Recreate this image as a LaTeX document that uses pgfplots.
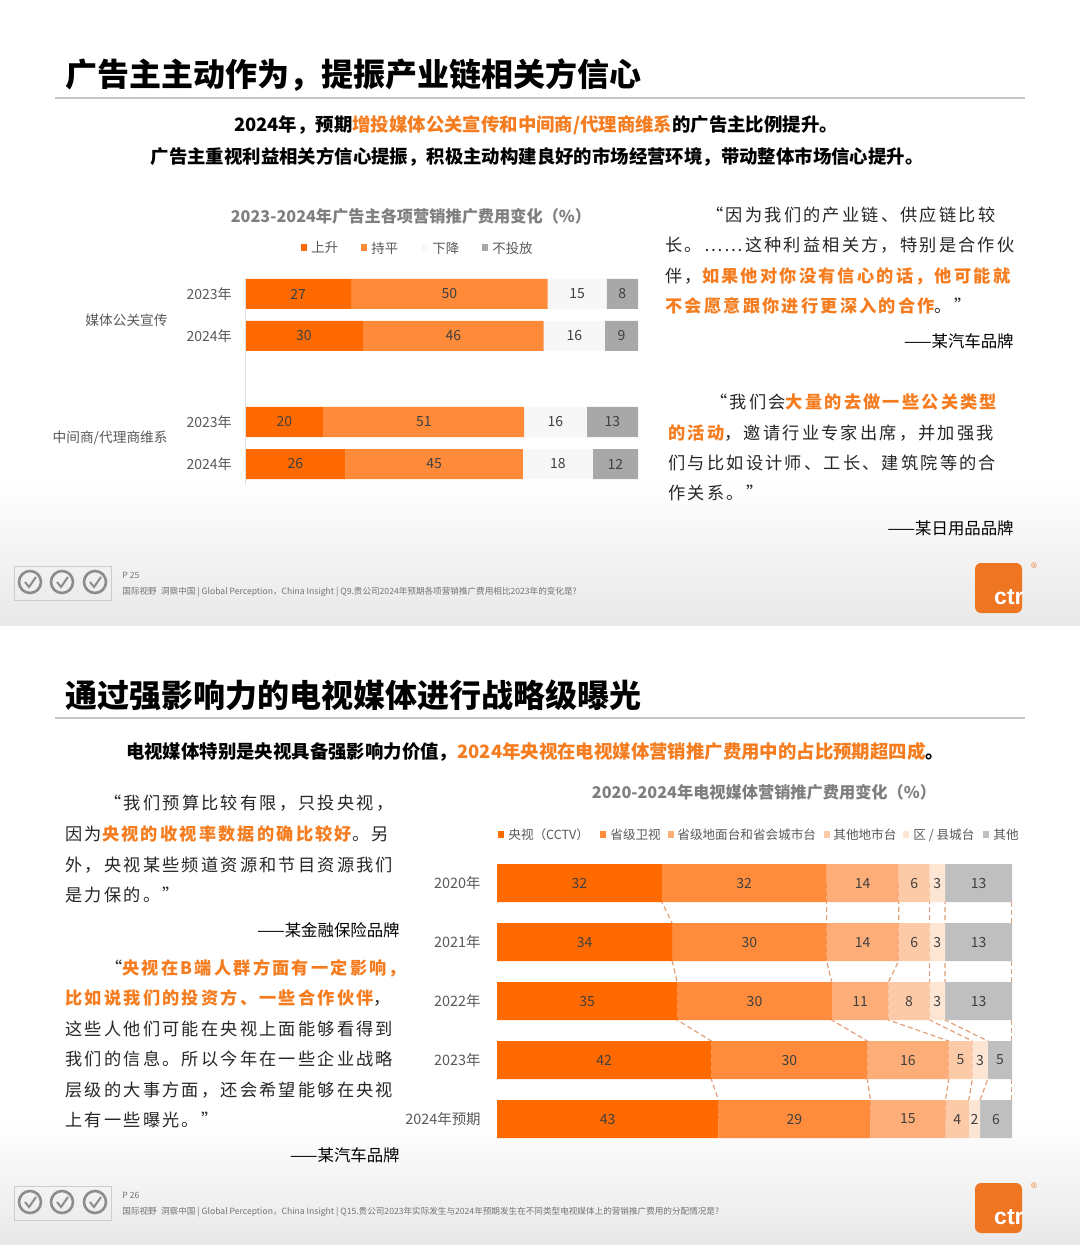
\documentclass[border=0pt]{standalone}
\usepackage{pgfplots}
\pgfplotsset{compat=1.18}
\usepackage{fontspec}
\setmainfont{Noto Sans CJK SC}
\newfontfamily\cjk{Noto Sans CJK SC}
\newfontfamily\qfont[LetterSpace=12.8]{Noto Sans CJK SC}
\newfontfamily\lat{Liberation Sans}

\definecolor{tA}{HTML}{FF6A00}
\definecolor{tB}{HTML}{FF8A3A}
\definecolor{tC}{HTML}{F7F7F7}
\definecolor{tD}{HTML}{A8A8A8}
\definecolor{oA}{HTML}{FF6A00}
\definecolor{oB}{HTML}{FF8C3C}
\definecolor{oC}{HTML}{FDAE78}
\definecolor{oD}{HTML}{FCCAA6}
\definecolor{oE}{HTML}{FDE5D4}
\definecolor{gA}{HTML}{BFBFBF}
\definecolor{hl}{HTML}{F57C1F}
\definecolor{labgray}{HTML}{595959}
\definecolor{numgray}{HTML}{404040}
\definecolor{ttlgray}{HTML}{7F7F7F}
\definecolor{conn}{HTML}{E3A07A}
\definecolor{ctr}{HTML}{EE7623}

\newcommand\Q[1]{{\color{hl}\bfseries #1}}

\pgfplotsset{
  topgeom/.style={at={(122.5pt,-242.5pt)}, anchor=south west, scale only axis,
    width=196.5pt, height=105pt, xmin=0, xmax=100, ymin=-485, ymax=-275,
    enlargelimits=false, clip=false},
  botgeom/.style={at={(248.5pt,-570pt)}, anchor=south west, scale only axis,
    width=257.5pt, height=139pt, xmin=0, xmax=100, ymin=-1140, ymax=-862,
    enlargelimits=false, clip=false},
  lbl/.style={draw=none, mark=none, nodes near coords, point meta=explicit symbolic,
    nodes near coords align=center,
    every node near coord/.append style={font=\cjk\fontsize{7}{8}\selectfont, text=numgray, inner sep=0pt, anchor=center}},
  cn/.style={conn, dash pattern=on 2.5pt off 1.5pt, line width=0.6pt},
}

\begin{document}
\begin{tikzpicture}
\begin{scope}[x=0.5pt,y=-0.5pt]
\path[use as bounding box] (0,0) rectangle (1080,1245);
\fill[white] (0,0) rectangle (1080,1245);
\shade[top color=white,bottom color=black!9] (0,480) rectangle (1080,625);
\shade[top color=white,bottom color=black!9] (0,1120) rectangle (1080,1245);
\draw[black!22, line width=1pt] (55,98) -- (1025,98);
\draw[black!22, line width=1pt] (55,718) -- (1025,718);
\end{scope}

% ---------------- top chart ----------------
\begin{axis}[topgeom, xbar stacked, bar width=30,
  axis line style={draw=none}, major tick length=0pt, xtick=\empty,
  ytick={-294,-336,-422,-464}, yticklabels={2023年,2024年,2023年,2024年},
  yticklabel style={font=\cjk\fontsize{7}{8}\selectfont, text=labgray, inner sep=0pt, xshift=-6.5pt}]
\addplot[fill=tA, draw=none] coordinates {(27,-294) (30,-336) (20,-422) (25.6,-464)};
\addplot[fill=tB, draw=none] coordinates {(50,-294) (46,-336) (51,-422) (45.1,-464)};
\addplot[fill=tC, draw=none] coordinates {(15,-294) (15.6,-336) (16,-422) (17.8,-464)};
\addplot[fill=tD, draw=none] coordinates {(8,-294) (8.4,-336) (13,-422) (11.5,-464)};
\end{axis}
\begin{axis}[topgeom, hide axis]
\addplot[black!12, line width=0.5pt] coordinates {(0,-278) (0,-485)};
\addplot[lbl] coordinates {
 (13.5,-294) [27] (52,-294) [50] (84.5,-294) [15] (96,-294) [8]
 (15,-336) [30] (53,-336) [46] (83.8,-336) [16] (95.8,-336) [9]
 (10,-422) [20] (45.5,-422) [51] (79,-422) [16] (93.5,-422) [13]
 (12.8,-464) [26] (48.15,-464) [45] (79.6,-464) [18] (94.25,-464) [12]};
\end{axis}

% ---------------- bottom chart ----------------
\begin{axis}[botgeom, hide axis]
\addplot[cn] coordinates {(32,-883)(32,-902)(34,-923)(34,-961)(35,-982)(35,-1020)(41.6,-1041)(41.6,-1079)(43,-1100)(43,-1119)};
\addplot[cn] coordinates {(64,-883)(64,-902)(64,-923)(64,-961)(65,-982)(65,-1020)(71.9,-1041)(71.9,-1079)(72.5,-1100)(72.5,-1119)};
\addplot[cn] coordinates {(78,-883)(78,-902)(78,-923)(78,-961)(76,-982)(76,-1020)(87.7,-1041)(87.7,-1079)(87.1,-1100)(87.1,-1119)};
\addplot[cn] coordinates {(84,-883)(84,-902)(84,-923)(84,-961)(84,-982)(84,-1020)(92.3,-1041)(92.3,-1079)(91.6,-1100)(91.6,-1119)};
\addplot[cn] coordinates {(87,-883)(87,-902)(87,-923)(87,-961)(87,-982)(87,-1020)(95.3,-1041)(95.3,-1079)(93.8,-1100)(93.8,-1119)};
\addplot[cn, unbounded coords=jump] coordinates {(99.9,-902)(99.9,-923) (99.9,nan) (99.9,-961)(99.9,-982) (99.9,nan) (99.9,-1020)(99.9,-1041) (99.9,nan) (99.9,-1079)(99.9,-1100)};
\end{axis}
\begin{axis}[botgeom, xbar stacked, bar width=38,
  axis line style={draw=none}, major tick length=0pt, xtick=\empty,
  ytick={-883,-942,-1001,-1060,-1119}, yticklabels={2020年,2021年,2022年,2023年,2024年预期},
  yticklabel style={font=\cjk\fontsize{7.2}{8}\selectfont, text=labgray, inner sep=0pt, xshift=-8pt}]
\addplot[fill=oA, draw=none] coordinates {(32,-883) (34,-942) (35,-1001) (41.6,-1060) (43,-1119)};
\addplot[fill=oB, draw=none] coordinates {(32,-883) (30,-942) (30,-1001) (30.3,-1060) (29.5,-1119)};
\addplot[fill=oC, draw=none] coordinates {(14,-883) (14,-942) (11,-1001) (15.8,-1060) (14.6,-1119)};
\addplot[fill=oD, draw=none] coordinates {(6,-883) (6,-942) (8,-1001) (4.6,-1060) (4.5,-1119)};
\addplot[fill=oE, draw=none] coordinates {(3,-883) (3,-942) (3,-1001) (3.0,-1060) (2.2,-1119)};
\addplot[fill=gA, draw=none] coordinates {(13,-883) (13,-942) (13,-1001) (4.7,-1060) (6.2,-1119)};
\end{axis}
\begin{axis}[botgeom, hide axis]
\addplot[lbl] coordinates {
 (16,-883) [32] (48,-883) [32] (71,-883) [14] (81,-883) [6] (85.5,-883) [3] (93.5,-883) [13]
 (17,-942) [34] (49,-942) [30] (71,-942) [14] (81,-942) [6] (85.5,-942) [3] (93.5,-942) [13]
 (17.5,-1001) [35] (50,-1001) [30] (70.5,-1001) [11] (80,-1001) [8] (85.5,-1001) [3] (93.5,-1001) [13]
 (20.8,-1060) [42] (56.75,-1060) [30] (79.8,-1060) [16] (90,-1060) [5] (93.8,-1060) [3] (97.65,-1060) [5]
 (21.5,-1119) [43] (57.75,-1119) [29] (79.8,-1119) [15] (89.35,-1119) [4] (92.7,-1119) [2] (96.9,-1119) [6]};
\end{axis}

\begin{scope}[x=0.5pt,y=-0.5pt, every node/.style={inner sep=0pt}]
% titles
\node[anchor=west, font=\cjk\bfseries\fontsize{16}{18}\selectfont] at (65,75) {广告主主动作为，提振产业链相关方信心};
\node[anchor=west, font=\cjk\bfseries\fontsize{16}{18}\selectfont] at (65,695) {通过强影响力的电视媒体进行战略级曝光};
\node[font=\cjk\bfseries\fontsize{9.2}{11}\selectfont] at (536,125) {2024年，预期{\color{hl}增投媒体公关宣传和中间商/代理商维系}的广告主比例提升。};
\node[font=\cjk\bfseries\fontsize{9.2}{11}\selectfont] at (537,157) {广告主重视利益相关方信心提振，积极主动构建良好的市场经营环境，带动整体市场信心提升。};
\node[font=\cjk\bfseries\fontsize{9.2}{11}\selectfont] at (535,752) {电视媒体特别是央视具备强影响力价值，{\color{hl}2024年央视在电视媒体营销推广费用中的占比预期超四成}。};

% chart titles
\node[font=\cjk\bfseries\fontsize{8.1}{10}\selectfont, text=ttlgray] at (411,216) {2023-2024年广告主各项营销推广费用变化（\%）};
\node[font=\cjk\bfseries\fontsize{8.1}{10}\selectfont, text=ttlgray] at (764,792) {2020-2024年电视媒体营销推广费用变化（\%）};

% top legend
\begin{scope}[every node/.style={inner sep=0pt, anchor=west, font=\cjk\fontsize{6.7}{8}\selectfont, text=labgray}]
\fill[tA] (301,244) rectangle (307,251); \node at (311,248) {上升};
\fill[tB] (361,244) rectangle (367,251); \node at (371,248) {持平};
\fill[tC] (422,244) rectangle (428,251); \node at (432,248) {下降};
\fill[tD] (482,244) rectangle (488,251); \node at (492,248) {不投放};
\end{scope}
% group labels
\node[anchor=east, font=\cjk\fontsize{6.85}{8}\selectfont, text=labgray] at (168,320) {媒体公关宣传};
\node[anchor=east, font=\cjk\fontsize{6.85}{8}\selectfont, text=labgray] at (168,438) {中间商/代理商维系};

% bottom legend
\begin{scope}[every node/.style={inner sep=0pt, anchor=west, font=\cjk\fontsize{6.3}{8}\selectfont, text=labgray}]
\fill[oA] (498,831) rectangle (504,838); \node at (508,835) {央视（CCTV）};
\fill[oB] (600,831) rectangle (606,838); \node at (610,835) {省级卫视};
\fill[oC] (668,831) rectangle (674,838); \node at (677,835) {省级地面台和省会城市台};
\fill[oD] (824,831) rectangle (830,838); \node at (833,835) {其他地市台};
\fill[oE] (903,831) rectangle (909,838); \node at (913,835) {区 / 县城台};
\fill[gA] (983,831) rectangle (989,838); \node at (993,835) {其他};
\end{scope}

% quotes top right
\begin{scope}[every node/.style={inner sep=0pt, anchor=west, font=\qfont\fontsize{8.6}{10}\selectfont, text=black!85}]
\node at (706,215) {“因为我们的产业链、供应链比较};
\node at (665,245) {长。……这种利益相关方，特别是合作伙};
\node at (665,276) {伴，\Q{如果他对你没有信心的话，他可能就}};
\node at (665,306) {\Q{不会愿意跟你进行更深入的合作}。”};
\node at (710,402) {“我们会\Q{大量的去做一些公关类型}};
\node at (668,433) {\Q{的活动}，邀请行业专家出席，并加强我};
\node at (668,463) {们与比如设计师、工长、建筑院等的合};
\node at (668,493) {作关系。”};
% quotes bottom left
\node at (104,803) {“我们预算比较有限，只投央视，};
\node at (65,834) {因为\Q{央视的收视率数据的确比较好}。另};
\node at (65,865) {外，央视某些频道资源和节目资源我们};
\node at (65,895) {是力保的。”};
\node at (105,968) {“\Q{央视在B端人群方面有一定影响，}};
\node at (65,998) {\Q{比如说我们的投资方、一些合作伙伴}，};
\node at (65,1029) {这些人他们可能在央视上面能够看得到};
\node at (65,1059) {我们的信息。所以今年在一些企业战略};
\node at (65,1090) {层级的大事方面，还会希望能够在央视};
\node at (65,1120) {上有一些曝光。”};
\end{scope}
\begin{scope}[every node/.style={inner sep=0pt, anchor=east, font=\cjk\fontsize{8.2}{10}\selectfont}]
\node at (1014,341) {——某汽车品牌};
\node at (1014,528) {——某日用品品牌};
\node at (400,930) {——某金融保险品牌};
\node at (400,1155) {——某汽车品牌};
\end{scope}

% footers
\foreach \yy/\pg/\txt in {583/25/{Q9.贵公司2024年预期各项营销推广费用相比2023年的变化是?},1203/26/{Q15.贵公司2023年实际发生与2024年预期发生在不同类型电视媒体上的营销推广费用的分配情况是?}}{
  \draw[black!20, line width=0.4pt] (14,\yy-17) rectangle (111,\yy+17);
  \foreach \cx in {30,62,95}{
    \draw[black!45, line width=1.3pt] (\cx,\yy-1) circle [radius=11];
    \draw[black!45, line width=1pt] (\cx-5,\yy-1) -- (\cx-1,\yy+4) -- (\cx+6,\yy-6);
  }
  \node[anchor=west, font=\cjk\fontsize{4.3}{5}\selectfont, text=black!55] at (122,\yy-8) {P \pg};
  \node[anchor=west, font=\cjk\fontsize{4.3}{5}\selectfont, text=black!55] at (122,\yy+9) {国际视野\enspace 洞察中国 | Global Perception，China Insight | \txt};
  \fill[ctr, rounded corners=3pt] (975,\yy-20) rectangle (1022,\yy+30);
  \node[anchor=east, text=white, font=\lat\bfseries\fontsize{11.5}{12}\selectfont] at (1024,\yy+14) {ctr};
  \node[text=ctr, font=\lat\fontsize{4}{5}\selectfont] at (1034,\yy-17) {®};
}
\end{scope}
\end{tikzpicture}
\end{document}
